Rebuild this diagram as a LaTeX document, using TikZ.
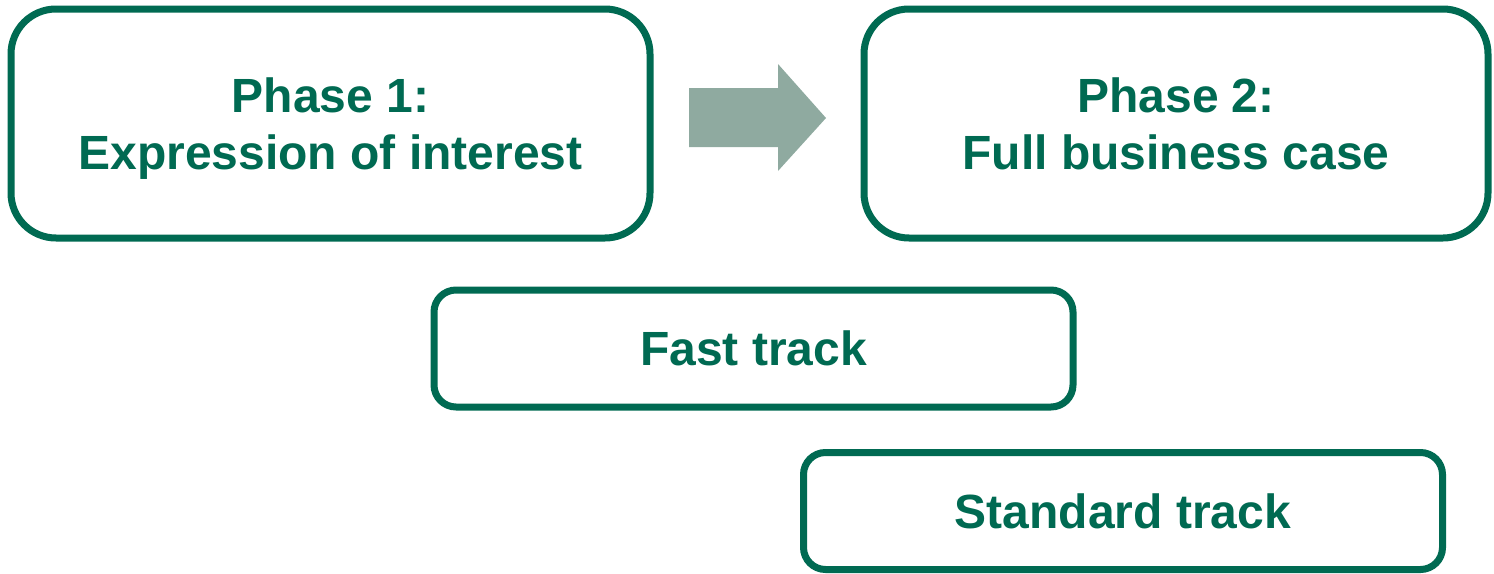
\documentclass[tikz,border=0pt]{standalone}
\usepackage{fontspec}
\setmainfont{Liberation Sans}
\usepackage{xcolor}
\usetikzlibrary{positioning}

\definecolor{phasegreen}{HTML}{006A52}
\definecolor{arrowgrey}{HTML}{8FAAA0}

\begin{document}
\begin{tikzpicture}[
    x=1pt, y=-1pt,
    box/.style={draw=phasegreen, line width=7pt, fill=white, text=phasegreen,
      align=center, inner sep=0pt,
      font=\bfseries\fontsize{48}{57}\selectfont},
    phasebox/.style={box, rounded corners=45pt, minimum height=229pt, text depth=0pt},
    trackbox/.style={box, rounded corners=22pt, minimum width=639pt, minimum height=117pt}
]
  \useasboundingbox (0,0) rectangle (1494,573);

  \node[phasebox, minimum width=639pt] (p1) at (330.5,123.5) {Phase 1:\\Expression of interest};
  \node[phasebox, minimum width=624pt] (p2) at (1176,123.5) {Phase 2:\\Full business case};

  \node[trackbox] (fast) at (753.5,348.5) {Fast track};
  \node[trackbox] (std) at (1123,511) {Standard track};

  % block arrow between the two phases
  \fill[arrowgrey] (689,88) -- (778,88) -- (778,64) -- (826,118)
    -- (778,171) -- (778,147) -- (689,147) -- cycle;
\end{tikzpicture}
\end{document}
